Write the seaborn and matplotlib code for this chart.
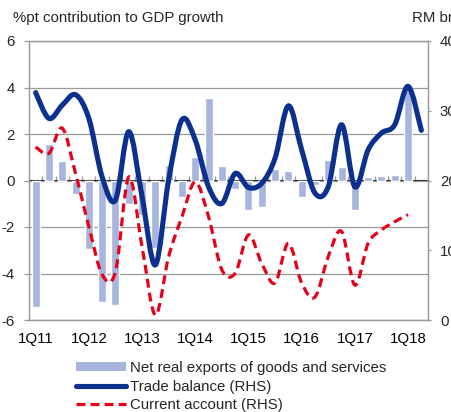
import numpy as np
import pandas as pd
import matplotlib
matplotlib.use("Agg")
import matplotlib.pyplot as plt
from matplotlib.path import Path
from matplotlib.patches import PathPatch
from matplotlib.lines import Line2D
from matplotlib.patches import Patch
from matplotlib.ticker import NullFormatter
import seaborn as sns

# ---------------- data ----------------
quarters = [f"{q}Q{y}" for y in range(11, 19) for q in range(1, 5)][:30]  # 1Q11 .. 2Q18
tick_labels = ["1Q11", "1Q12", "1Q13", "1Q14", "1Q15", "1Q16", "1Q17", "1Q18"]

net_exports = [-5.42, 1.56, 0.86, -0.59, -2.94, -5.24, -5.34, -1.02,
               -1.5, -2.9, 0.67, -0.72, 1.03, 3.54, 0.63, -0.37,
               -1.28, -1.12, 0.49, 0.43, -0.73, -0.19, 0.89, 0.56,
               -1.26, 0.17, 0.21, 0.23, 4.0, np.nan]

trade_balance = [32.6, 28.9, 30.8, 32.3, 28.9, 20.5, 17.2, 27.0,
                 17.7, 7.9, 20.1, 28.7, 25.8, 19.1, 16.7, 21.0,
                 19.0, 19.6, 23.2, 30.7, 24.4, 18.2, 19.1, 28.0,
                 19.1, 24.4, 26.8, 28.0, 33.5, 27.2]

current_account = [24.8, 23.9, 27.5, 21.0, 13.4, 6.5, 6.9, 20.5,
                   10.5, 0.7, 9.1, 14.8, 19.8, 14.8, 7.2, 6.7,
                   12.2, 8.1, 5.3, 11.0, 5.3, 3.3, 9.1, 12.7,
                   5.0, 11.0, 12.9, 14.1, 15.1, np.nan]

# ---------------- style ----------------
BAR = "#A7B5DC"
BLUE = "#0B308E"
RED = "#E8001A"
GRID = "#9A9A9A"
FS = 10.8

sns.set_style("white")
plt.rcParams["font.family"] = ["Liberation Sans", "DejaVu Sans"]
plt.rcParams["font.size"] = FS

W, H = 452, 412
fig = plt.figure(figsize=(W / 100, H / 100), dpi=100)
ax = fig.add_axes([29 / W, 1 - 320 / H, (428 - 29) / W, (320 - 41) / H])

df = pd.DataFrame({"quarter": quarters, "net": net_exports})
sns.barplot(data=df, x="quarter", y="net", order=quarters, color=BAR,
            saturation=1, width=0.6, errorbar=None, ax=ax, zorder=2)

ax.set_xlim(-0.5, len(quarters) - 0.5)
ax.set_ylim(-6, 6)
ax.set_yticks(np.arange(-6, 7, 2))
ax.set_yticklabels([str(v) for v in range(-6, 7, 2)])
ax.yaxis.grid(True, color=GRID, lw=0.9, zorder=0)
ax.set_axisbelow(True)
ax.set_xlabel("")
ax.set_ylabel("")
ax.set_xticks([quarters.index(t) for t in tick_labels])
ax.set_xticklabels(tick_labels)
ax.tick_params(axis="x", length=0, pad=8.5, labelsize=FS, colors="black")
ax.tick_params(axis="y", length=3.6, width=0.9, color=GRID, pad=6.5, labelsize=FS)
for s in ax.spines.values():
    s.set_color(GRID)
    s.set_linewidth(0.9)

# category axis line at zero with tick marks between categories
sec = ax.secondary_xaxis(0.5)
sec.set_xticks(np.arange(0.5, len(quarters) - 1, 1.0))
sec.xaxis.set_major_formatter(NullFormatter())
sec.tick_params(axis="x", length=3, width=0.9, color=GRID)
sec.spines["bottom"].set_color(GRID)
sec.spines["bottom"].set_linewidth(0.9)

# right axis
ax2 = ax.twinx()
ax2.set_ylim(0, 40)
ax2.set_yticks([0, 10, 20, 30, 40])
ax2.tick_params(axis="y", length=2.4, width=0.9, color=GRID, pad=6.2, labelsize=FS)
for s in ax2.spines.values():
    s.set_color(GRID)
    s.set_linewidth(0.9)


def smooth_path(xs, ys):
    """Excel-style smoothed line: cubic Bezier segments through the data points."""
    pts = [(x, y) for x, y in zip(xs, ys) if not np.isnan(y)]
    P = np.array(pts, dtype=float)
    n = len(P)
    verts = [P[0]]
    codes = [Path.MOVETO]
    for i in range(n - 1):
        p_prev = P[i - 1] if i > 0 else P[i]
        p_next2 = P[i + 2] if i + 2 < n else P[i + 1]
        c1 = P[i] + (P[i + 1] - p_prev) / 6.0
        c2 = P[i + 1] - (p_next2 - P[i]) / 6.0
        verts += [c1, c2, P[i + 1]]
        codes += [Path.CURVE4] * 3
    return Path(verts, codes)


xpos = np.arange(len(quarters))
ax2.add_patch(PathPatch(smooth_path(xpos, current_account), fill=False,
                        edgecolor=RED, lw=2.3, linestyle=(0, (2.8, 1.6)),
                        capstyle="butt", zorder=3))
ax2.add_patch(PathPatch(smooth_path(xpos, trade_balance), fill=False,
                        edgecolor=BLUE, lw=3.7, capstyle="round",
                        joinstyle="round", zorder=4))

# titles
fig.text(13 / W, 1 - 18 / H, "%pt contribution to GDP growth", va="center",
         ha="left", fontsize=FS)
fig.text(412 / W, 1 - 18 / H, "RM bn", va="center", ha="left", fontsize=FS)

# legend
handles = [
    Patch(facecolor=BAR, edgecolor="none"),
    Line2D([], [], color=BLUE, lw=3.7, solid_capstyle="round"),
    Line2D([], [], color=RED, lw=2.3, linestyle=(0, (2.8, 1.6)), dash_capstyle="butt"),
]
labels = ["Net real exports of goods and services", "Trade balance (RHS)",
          "Current account (RHS)"]
fig.legend(handles, labels, loc="upper left", bbox_to_anchor=(76 / W, 1 - 361 / H),
           frameon=False, fontsize=FS, handlelength=3.3, handleheight=0.5,
           handletextpad=0.3, labelspacing=0.3, borderpad=0, borderaxespad=0)

fig.savefig("out.png", dpi=100)
